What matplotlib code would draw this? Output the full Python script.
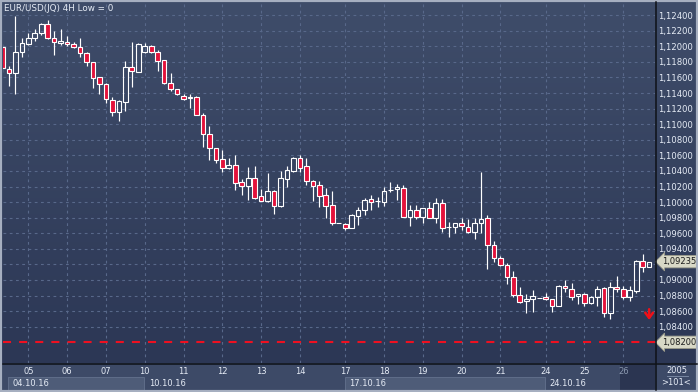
import numpy as np
import matplotlib.pyplot as plt
import matplotlib.transforms as mtransforms
from matplotlib.colors import LinearSegmentedColormap
from matplotlib.patches import Rectangle
from matplotlib.lines import Line2D

plt.rcParams['font.family'] = 'DejaVu Sans'
plt.rcParams['lines.scale_dashes'] = False

# 4H candles, EUR/USD, 04.10.16 - 26.10.16 (101 bars)
opens = [1.11991, 1.11704, 1.11653, 1.11930, 1.12029, 1.12102, 1.12167, 1.12282, 1.12102, 1.12046,
         1.12051, 1.12029, 1.11991, 1.11918, 1.11798, 1.11602, 1.11516, 1.11310, 1.11160, 1.11289,
         1.11730, 1.11674, 1.11930, 1.12004, 1.11927, 1.11820, 1.11525, 1.11448, 1.11366, 1.11332,
         1.11345, 1.11114, 1.10870, 1.10690, 1.10549, 1.10434, 1.10476, 1.10262, 1.10210, 1.10305,
         1.10078, 1.10014, 1.10142, 1.09950, 1.10296, 1.10403, 1.10570, 1.10463, 1.10271, 1.10215,
         1.10091, 1.09962, 1.09728, 1.09715, 1.09663, 1.09825, 1.09898, 1.10039, 1.10010, 1.09997,
         1.10151, 1.10164, 1.10177, 1.09812, 1.09898, 1.09812, 1.09920, 1.09799, 1.09984, 1.09674,
         1.09684, 1.09728, 1.09684, 1.09620, 1.09728, 1.09792, 1.09449, 1.09278, 1.09192, 1.09034,
         1.08807, 1.08726, 1.08752, 1.08772, 1.08778, 1.08752, 1.08670, 1.08923, 1.08884, 1.08794,
         1.08816, 1.08701, 1.08778, 1.08893, 1.08580, 1.08906, 1.08880, 1.08785, 1.08862, 1.09247,
         1.09163]
highs = [1.12029, 1.11747, 1.12389, 1.12102, 1.12167, 1.12218, 1.12295, 1.12337, 1.12196, 1.12218,
         1.12132, 1.12059, 1.12110, 1.11923, 1.11802, 1.11606, 1.11525, 1.11353, 1.11310, 1.11811,
         1.12059, 1.12046, 1.12038, 1.12016, 1.11952, 1.11824, 1.11653, 1.11452, 1.11387, 1.11384,
         1.11362, 1.11143, 1.10977, 1.10694, 1.10668, 1.10562, 1.10604, 1.10292, 1.10454, 1.10463,
         1.10168, 1.10377, 1.10155, 1.10403, 1.10463, 1.10582, 1.10604, 1.10570, 1.10283, 1.10271,
         1.10177, 1.10146, 1.09728, 1.09731, 1.09847, 1.09933, 1.10048, 1.10091, 1.10069, 1.10197,
         1.10254, 1.10232, 1.10219, 1.09962, 1.09962, 1.09920, 1.10005, 1.10048, 1.10039, 1.09748,
         1.09728, 1.09792, 1.09779, 1.09792, 1.10390, 1.09834, 1.09500, 1.09308, 1.09214, 1.09119,
         1.08914, 1.08820, 1.08871, 1.08772, 1.08837, 1.08756, 1.08936, 1.09000, 1.08965, 1.08820,
         1.08829, 1.08794, 1.08923, 1.08914, 1.08970, 1.09051, 1.08923, 1.08923, 1.09256, 1.09333,
         1.09235]
lows = [1.11670, 1.11490, 1.11384, 1.11866, 1.12016, 1.12072, 1.12145, 1.12090, 1.11888, 1.12016,
        1.12007, 1.11982, 1.11858, 1.11751, 1.11461, 1.11387, 1.11276, 1.11109, 1.11045, 1.11173,
        1.11473, 1.11674, 1.11918, 1.11910, 1.11686, 1.11512, 1.11430, 1.11375, 1.11310, 1.11204,
        1.11112, 1.10711, 1.10540, 1.10498, 1.10390, 1.10431, 1.10155, 1.10091, 1.10027, 1.10039,
        1.10014, 1.10005, 1.09843, 1.09933, 1.10197, 1.10390, 1.10390, 1.10219, 1.10014, 1.09941,
        1.09792, 1.09706, 1.09728, 1.09642, 1.09663, 1.09706, 1.09834, 1.09898, 1.09933, 1.09954,
        1.10133, 1.10027, 1.09812, 1.09693, 1.09779, 1.09728, 1.09799, 1.09735, 1.09620, 1.09548,
        1.09607, 1.09642, 1.09607, 1.09522, 1.09607, 1.09137, 1.09235, 1.09183, 1.08944, 1.08785,
        1.08708, 1.08580, 1.08593, 1.08772, 1.08743, 1.08593, 1.08670, 1.08842, 1.08743, 1.08688,
        1.08666, 1.08692, 1.08666, 1.08529, 1.08495, 1.08842, 1.08752, 1.08734, 1.08837, 1.09106,
        1.09163]
closes = [1.11721, 1.11653, 1.11923, 1.12038, 1.12102, 1.12167, 1.12282, 1.12102, 1.12059, 1.12068,
          1.12025, 1.11987, 1.11910, 1.11794, 1.11597, 1.11512, 1.11319, 1.11160, 1.11298, 1.11730,
          1.11683, 1.12029, 1.12004, 1.11927, 1.11815, 1.11525, 1.11448, 1.11384, 1.11319, 1.11345,
          1.11118, 1.10870, 1.10690, 1.10540, 1.10434, 1.10472, 1.10241, 1.10210, 1.10305, 1.10056,
          1.10018, 1.10142, 1.09954, 1.10305, 1.10412, 1.10570, 1.10441, 1.10271, 1.10210, 1.10078,
          1.09954, 1.09728, 1.09728, 1.09663, 1.09834, 1.09898, 1.10027, 1.09997, 1.10014, 1.10142,
          1.10155, 1.10190, 1.09812, 1.09898, 1.09812, 1.09920, 1.09799, 1.09984, 1.09663, 1.09676,
          1.09728, 1.09693, 1.09620, 1.09728, 1.09779, 1.09449, 1.09278, 1.09192, 1.09034, 1.08807,
          1.08721, 1.08752, 1.08798, 1.08772, 1.08752, 1.08666, 1.08923, 1.08893, 1.08778, 1.08820,
          1.08708, 1.08778, 1.08880, 1.08580, 1.08906, 1.08880, 1.08785, 1.08871, 1.09247, 1.09163,
          1.09235]

day_idx = [4, 10, 16, 22, 28, 34, 40, 46, 53, 59, 65, 71, 77, 84, 90, 96]
day_labels = ['05', '06', '07', '10', '11', '12', '13', '14', '17', '18', '19', '20', '21', '24', '25', '26']
week_idx = [0, 22, 53, 84]
week_labels = ['04.10.16', '10.10.16', '17.10.16', '24.10.16']
price_ticks = [1.084, 1.086, 1.088, 1.090, 1.092, 1.094, 1.096, 1.098, 1.100, 1.102, 1.104,
               1.106, 1.108, 1.110, 1.112, 1.114, 1.116, 1.118, 1.120, 1.122, 1.124]
alert_level = 1.082
last_price = closes[-1]
signal_idx = 100
signal_top, signal_bottom = 1.08660, 1.08450

W, H = 698, 392
TXT = '#e6ecf6'
RED = '#e3123b'

fig = plt.figure(figsize=(W / 100, H / 100), dpi=100)
fig.patch.set_facecolor('#3d4a67')

# gradient background behind chart and price scale
bg = fig.add_axes([0, (H - 363) / H, 1, 363 / H])
cmap = LinearSegmentedColormap.from_list('bg', ['#3f4d6a', '#2c3755'])
bg.imshow(np.linspace(0, 1, 256).reshape(-1, 1), aspect='auto', cmap=cmap, extent=[0, 1, 0, 1])
bg.axis('off')

ax = fig.add_axes([3 / W, (H - 363) / H, 652 / W, 360 / H])
ax.patch.set_alpha(0)
ax.set_xlim(0.088, 100.907)
ax.set_ylim(1.07934, 1.12556)
for s in ax.spines.values():
    s.set_visible(False)

# grid
for y in price_ticks:
    ax.axhline(y, color='#58688a', lw=0.8, dashes=(2, 2.5), zorder=1)
for d in day_idx:
    ax.axvline(d, color='#58688a', lw=0.8, dashes=(2, 2.5), zorder=1)

# alert line
ax.axhline(alert_level, color='#ee1020', lw=1.5, dashes=(5.8, 5.8), zorder=2)

# candles
bw = 0.72
for i, (o, h, l, c) in enumerate(zip(opens, highs, lows, closes)):
    lo_b, hi_b = min(o, c), max(o, c)
    ax.vlines(i, hi_b, h, color='white', lw=0.85, zorder=3)
    ax.vlines(i, l, lo_b, color='white', lw=0.85, zorder=3)
    fc = RED if c < o else 'none'
    ax.add_patch(Rectangle((i - bw / 2, lo_b), bw, hi_b - lo_b, facecolor=fc,
                           edgecolor='white', lw=0.8, zorder=4))

# signal arrow
ax.annotate('', xy=(signal_idx, signal_bottom), xytext=(signal_idx, signal_top),
            arrowprops=dict(arrowstyle='->,head_width=0.28,head_length=0.38',
                            color='#f01018', lw=1.8), zorder=5)

# x axis labels
ax.set_xticks(day_idx, day_labels)
ax.tick_params(axis='x', length=0, pad=3.2, labelsize=6, labelcolor=TXT)
ax.get_xticklabels()[-1].set_color('#8a97ae')

# y axis on the right (the level under the last-price flag has no label)
ax.yaxis.tick_right()
ylabels = ['' if abs(v - last_price) < 0.0012 else f'{v:.5f}'.replace('.', ',') for v in price_ticks]
ax.set_yticks(price_ticks, ylabels)
ax.tick_params(axis='y', length=0, pad=2.0, labelsize=6.1, labelcolor=TXT)

tr = mtransforms.blended_transform_factory(ax.transData, ax.transAxes)
# week boxes
for k, (wi, wl) in enumerate(zip(week_idx, week_labels)):
    start = max(wi, 0.9)
    end = week_idx[k + 1] - 0.15 if k + 1 < len(week_idx) else 100.9
    if k % 2 == 0:
        ax.add_patch(Rectangle((start, -0.075), end - start, 0.0355, transform=tr,
                               facecolor='#4e5c78', edgecolor='#64728e', lw=0.6, clip_on=False))
    ax.text(start + 0.6 if k == 0 else wi + 0.65, -0.057, wl, transform=tr, ha='left',
            va='center', fontsize=6, color=TXT, clip_on=False)
# current-day shading
ax.add_patch(Rectangle((95.5, -0.075), 100.9 - 95.5, 0.072, transform=tr,
                       facecolor='#2b3551', edgecolor='none', clip_on=False, zorder=0))

# price flags on the scale
ty = mtransforms.blended_transform_factory(ax.transAxes, ax.transData)
for v in [last_price, alert_level]:
    ax.text(1 + 7 / 652, v, f'{v:.5f}'.replace('.', ','), transform=ty, ha='left', va='center',
            fontsize=6.0, color='#1c1c1c', clip_on=False, zorder=6,
            bbox=dict(boxstyle='larrow,pad=0.2', facecolor='#d8d8c6', edgecolor='#9c9c8c', lw=0.6))

# title
fig.text(4 / W, 1 - 8.5 / H, 'EUR/USD(JQ) 4H Low = 0', ha='left', va='center',
         fontsize=6.3, color=TXT)

# corner info
fig.text(676.5 / W, 1 - 370.5 / H, '2005', ha='center', va='center', fontsize=6, color=TXT)
fig.text(676.5 / W, 1 - 382.5 / H, '>101<', ha='center', va='center', fontsize=6, color=TXT)
fig.add_artist(Line2D([667 / W, 688 / W], [1 - 376 / H] * 2, color='#8190aa', lw=0.6))

# separators and frame
fig.add_artist(Line2D([3 / W, 697 / W], [1 - 363.5 / H] * 2, color='#0e1117', lw=1.1))
fig.add_artist(Line2D([655.5 / W] * 2, [1 - 2 / H, 1 - 390 / H], color='#0e1117', lw=1.1))
fig.add_artist(Rectangle((0, 0), 1, 1, transform=fig.transFigure, fill=False,
                         edgecolor='#a6afc0', lw=3))

fig.savefig('out.png', dpi=100, facecolor=fig.get_facecolor())
